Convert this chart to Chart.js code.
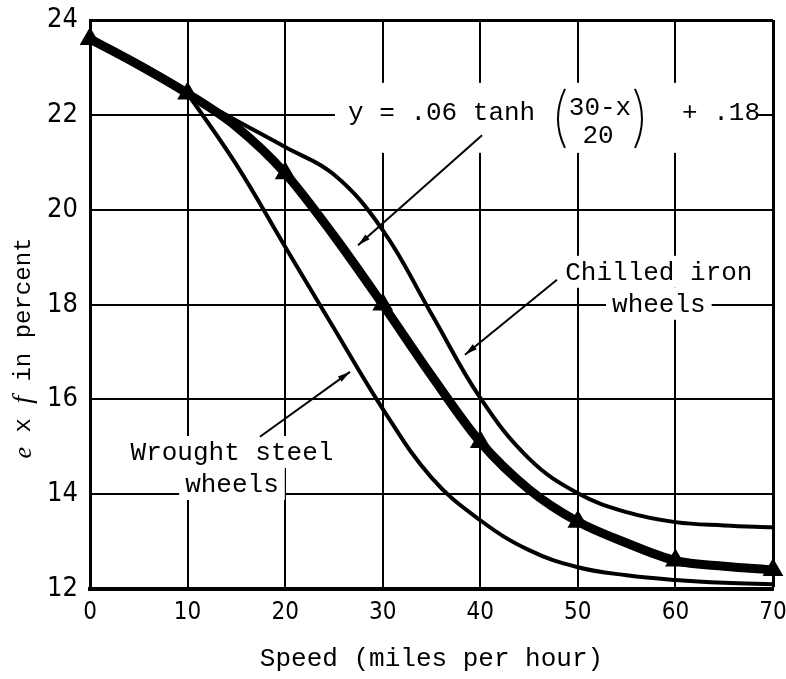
<!DOCTYPE html>
<html>
<head>
<meta charset="utf-8">
<script src="https://cdn.jsdelivr.net/npm/chart.js@4.4.1/dist/chart.umd.min.js"></script>
<style>
  html, body { margin: 0; padding: 0; background: #fff; }
  #wrap { width: 786px; height: 679px; }
</style>
</head>
<body>
<div id="wrap"><canvas id="chart" width="786" height="679"></canvas></div>
<script>
// speed in mph (e x f in percent)
var speeds = [0, 5, 10, 15, 20, 25, 30, 35, 40, 45, 50, 55, 60, 65, 70];
var fitted = [23.6, 23.05, 22.45, 21.75, 20.77, 19.45, 18.0, 16.5, 15.1, 14.1, 13.42, 12.97, 12.6, 12.48, 12.4];
var wheelSpeeds = [10, 15, 20, 25, 30, 35, 40, 45, 50, 55, 60, 65, 70];
var chilledIron = [22.45, 21.88, 21.32, 20.74, 19.57, 17.8, 16.03, 14.75, 14.02, 13.62, 13.41, 13.34, 13.3];
var wroughtSteel = [22.45, 20.95, 19.22, 17.5, 15.8, 14.35, 13.45, 12.82, 12.46, 12.29, 12.19, 12.13, 12.1];
var xTicks = [0, 10, 20, 30, 40, 50, 60, 70];
var yTicks = [12, 14, 16, 18, 20, 22, 24];

var mono = "'Liberation Mono', 'Courier New', monospace";
var tickFont = "'Liberation Sans Narrow', 'DejaVu Sans Condensed', 'Liberation Sans', sans-serif";

function pts(xs, ys) {
  return xs.map(function (x, i) { return { x: x, y: ys[i] }; });
}

// triangles only on the 10 mph marks
var markerRadius = speeds.map(function (s) { return s % 10 === 0 ? 12 : 0; });

// labels and arrows, positioned in data units
var labels = [
  { x: 58.3, y: 18.69, lines: ['Chilled iron', 'wheels'] },
  { x: 14.55, y: 14.89, lines: ['Wrought steel', 'wheels'] }
];
var arrows = [
  [40.18, 21.57, 27.47, 19.25],
  [47.86, 18.52, 38.43, 16.94],
  [17.42, 15.21, 26.65, 16.58]
];
var eqAnchor = { x: 26.44, y: 22.0 };

var notes = {
  id: 'notes',
  beforeDatasetsDraw: function (chart) {
    var ctx = chart.ctx, xs = chart.scales.x, ys = chart.scales.y;
    ctx.save();
    ctx.font = '26px ' + mono;
    ctx.fillStyle = '#000';

    // equation
    var ax = xs.getPixelForValue(eqAnchor.x), ay = ys.getPixelForValue(eqAnchor.y);
    ctx.fillStyle = '#fff';
    ctx.fillRect(ax - 13, ay - 32, 423, 70);
    ctx.fillStyle = '#000';
    ctx.textAlign = 'left';
    ctx.textBaseline = 'alphabetic';
    ctx.fillText('y = .06 tanh', ax, ay + 5);
    ctx.textAlign = 'center';
    ctx.fillText('30-x', ax + 252, ay);
    ctx.fillText('20', ax + 250, ay + 28);
    ctx.textAlign = 'left';
    ctx.fillText('+ .18', ax + 334, ay + 5);
    ctx.lineWidth = 2;
    ctx.strokeStyle = '#000';
    ctx.beginPath();
    ctx.moveTo(ax + 217, ay - 26);
    ctx.quadraticCurveTo(ax + 203, ay + 4, ax + 217, ay + 33);
    ctx.stroke();
    ctx.beginPath();
    ctx.moveTo(ax + 287, ay - 26);
    ctx.quadraticCurveTo(ax + 301, ay + 4, ax + 287, ay + 33);
    ctx.stroke();

    // wheel labels
    labels.forEach(function (lb) {
      var cx = xs.getPixelForValue(lb.x), cy = ys.getPixelForValue(lb.y);
      ctx.textAlign = 'center';
      ctx.textBaseline = 'middle';
      lb.lines.forEach(function (t, i) {
        var w = ctx.measureText(t).width;
        var yy = cy + i * 32;
        ctx.fillStyle = '#fff';
        ctx.fillRect(cx - w / 2 - 6, yy - 16, w + 12, 32);
        ctx.fillStyle = '#000';
        ctx.fillText(t, cx, yy + 1);
      });
    });
    ctx.restore();
  },
  afterDatasetsDraw: function (chart) {
    var ctx = chart.ctx, xs = chart.scales.x, ys = chart.scales.y;
    ctx.save();
    ctx.strokeStyle = '#000';
    ctx.fillStyle = '#000';
    ctx.lineWidth = 2;
    arrows.forEach(function (a) {
      var x0 = xs.getPixelForValue(a[0]), y0 = ys.getPixelForValue(a[1]);
      var x1 = xs.getPixelForValue(a[2]), y1 = ys.getPixelForValue(a[3]);
      var ang = Math.atan2(y1 - y0, x1 - x0);
      ctx.beginPath();
      ctx.moveTo(x0, y0);
      ctx.lineTo(x1, y1);
      ctx.stroke();
      ctx.beginPath();
      ctx.moveTo(x1, y1);
      ctx.lineTo(x1 - 13 * Math.cos(ang - 0.25), y1 - 13 * Math.sin(ang - 0.25));
      ctx.lineTo(x1 - 13 * Math.cos(ang + 0.25), y1 - 13 * Math.sin(ang + 0.25));
      ctx.closePath();
      ctx.fill();
    });
    ctx.restore();
  },
  afterDraw: function (chart) {
    // y axis title with italic e and f
    var ctx = chart.ctx;
    var parts = [
      ['e', 'italic 26px "Liberation Serif", serif'],
      [' x ', '24px ' + mono],
      ['f', 'italic 28px "Liberation Serif", serif'],
      [' in percent', '24px ' + mono]
    ];
    ctx.save();
    ctx.translate(24, 348);
    ctx.rotate(-Math.PI / 2);
    ctx.fillStyle = '#000';
    ctx.textBaseline = 'middle';
    var total = 0;
    parts.forEach(function (p) { ctx.font = p[1]; total += ctx.measureText(p[0]).width; });
    var x = -total / 2;
    parts.forEach(function (p) {
      ctx.font = p[1];
      ctx.fillText(p[0], x, 0);
      x += ctx.measureText(p[0]).width;
    });
    ctx.restore();
  }
};

new Chart(document.getElementById('chart').getContext('2d'), {
  type: 'line',
  data: {
    datasets: [{
      label: 'Fitted',
      data: pts(speeds, fitted),
      borderColor: '#000',
      backgroundColor: '#000',
      borderWidth: 9,
      pointStyle: 'triangle',
      pointRadius: markerRadius,
      pointBorderWidth: 0,
      cubicInterpolationMode: 'monotone',
      clip: false
    }, {
      label: 'Chilled iron wheels',
      data: pts(wheelSpeeds, chilledIron),
      borderColor: '#000',
      borderWidth: 4,
      pointRadius: 0,
      tension: 0.4,
      clip: false
    }, {
      label: 'Wrought steel wheels',
      data: pts(wheelSpeeds, wroughtSteel),
      borderColor: '#000',
      borderWidth: 4,
      pointRadius: 0,
      tension: 0.4,
      clip: false
    }]
  },
  options: {
    responsive: false,
    animation: false,
    layout: { padding: { top: 20, right: 13, left: 0, bottom: 0 } },
    plugins: {
      legend: { display: false },
      tooltip: { enabled: false }
    },
    scales: {
      x: {
        type: 'linear',
        min: 0,
        max: 70,
        afterBuildTicks: function (s) { s.ticks = xTicks.map(function (v) { return { value: v }; }); },
        afterFit: function (s) { s.height = 90; s.paddingLeft = 0; s.paddingRight = 0; },
        border: { color: '#000', width: 4 },
        grid: {
          color: '#000',
          lineWidth: function (c) { return c.tick && c.tick.value === 70 ? 3 : 2; },
          drawTicks: false
        },
        ticks: {
          color: '#000',
          padding: 9,
          maxRotation: 0,
          font: { family: tickFont, size: 24 }
        },
        title: {
          display: true,
          text: 'Speed (miles per hour)',
          color: '#000',
          font: { family: mono, size: 26 },
          padding: { top: 20 }
        }
      },
      y: {
        type: 'linear',
        min: 12,
        max: 24,
        afterBuildTicks: function (s) { s.ticks = yTicks.map(function (v) { return { value: v }; }); },
        afterFit: function (s) { s.width = 90; s.paddingTop = 0; s.paddingBottom = 0; },
        border: { color: '#000', width: 3 },
        grid: {
          color: '#000',
          lineWidth: function (c) { return c.tick && c.tick.value === 24 ? 3 : 2; },
          drawTicks: false
        },
        ticks: {
          color: '#000',
          padding: 12,
          font: { family: tickFont, size: 27 }
        }
      }
    }
  },
  plugins: [notes]
});
</script>
</body>
</html>
